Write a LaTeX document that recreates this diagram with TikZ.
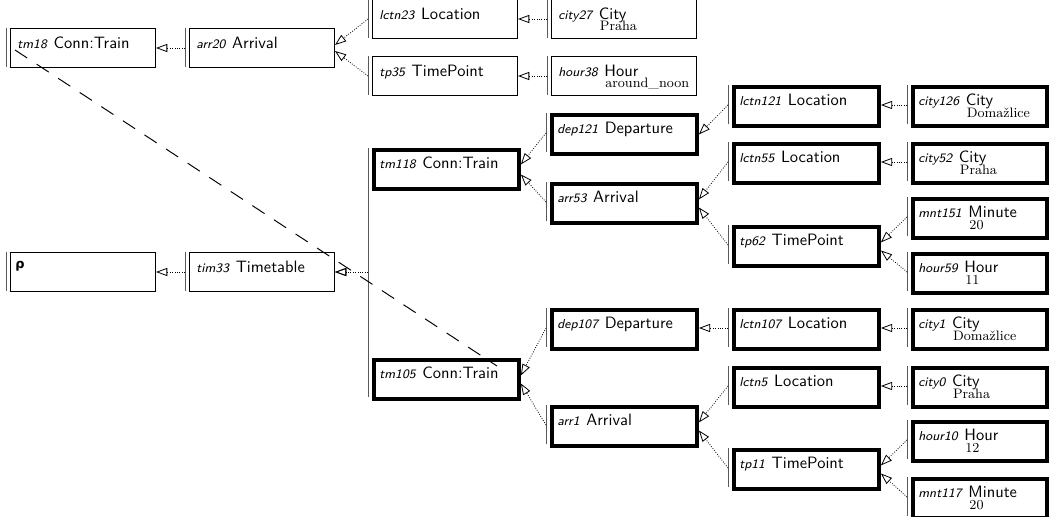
\documentclass[tikz,border=0pt]{standalone}
\usepackage{fontspec}
\newfontfamily\dejavu{DejaVu Sans}
\usetikzlibrary{calc,arrows.meta}
\tikzset{
  x=0.62pt, y=-0.62pt,
  thinbox/.style={draw, line width=0.6pt, minimum width=89.9pt, minimum height=24.2pt, inner sep=0pt, anchor=north west},
  thickbox/.style={draw, line width=2.4pt, minimum width=89.9pt, minimum height=24.2pt, inner sep=0pt, anchor=north west},
  thickboxR/.style={thickbox, minimum width=83pt},
  barline/.style={draw=black!65, line width=0.6pt},
  idtxt/.style={font=\sffamily\fontsize{8}{10}\selectfont\itshape, inner sep=0pt, anchor=base west},
  tytxt/.style={font=\sffamily\fontsize{10.2}{12}\selectfont, inner sep=0pt, anchor=base west},
  valtxt/.style={font=\rmfamily\fontsize{8.5}{10}\selectfont, inner sep=0pt, anchor=base west},
  conn/.style={densely dotted, line width=0.5pt, -{Triangle[open,length=7pt,width=5pt]}},
  anaph/.style={dash pattern=on 9pt off 7pt, line width=0.6pt}
}
\newcommand\bx[6]{%
  \node[#1] (#2) at (#3,#4) {};
  \draw[barline] (#3-4,#4) -- (#3-4,#4+39);
  \coordinate (#2b) at (#3-4,#4+20);
  \node[idtxt] (#2i) at (#3+7,#4+20) {#5};
  \node[tytxt] (#2t) at ($(#2i.base east)+(6,0)$) {#6};
}
\newcommand\bxv[7]{%
  \bx{#1}{#2}{#3}{#4}{#5}{#6}%
  \node[valtxt] (#2v) at ($(#2t.base west)+(1,12)$) {#7};
}
\begin{document}
\begin{tikzpicture}
\useasboundingbox (0,0) rectangle (1049,517);
% upper small tree
\bx{thinbox}{tm18}{10}{28}{tm18}{Conn:Train}
\bx{thinbox}{arr20}{189}{28}{arr20}{Arrival}
\bx{thinbox}{lctn23}{372}{-1}{lctn23}{Location}
\bxv{thinbox}{city27}{551}{-1}{city27}{City}{Praha}
\bx{thinbox}{tp35}{372}{56}{tp35}{TimePoint}
\bxv{thinbox}{hour38}{551}{56}{hour38}{Hour}{around\_noon}
% root
\node[thinbox] (root) at (10,252) {};
\draw[barline] (6,252) -- (6,291);
\node[inner sep=0pt, anchor=base west, font=\dejavu\bfseries\footnotesize] (rootr) at (15,268) {ρ};
\bx{thinbox}{tim33}{189}{252}{tim33}{Timetable}
% first train
\bx{thickbox}{tm118}{372}{148}{tm118}{Conn:Train}
\bx{thickbox}{dep121}{550}{113}{dep121}{Departure}
\bx{thickbox}{arr53}{550}{182}{arr53}{Arrival}
\bx{thickbox}{lctn121}{732}{85}{lctn121}{Location}
\bxv{thickboxR}{city126}{911}{85}{city126}{City}{Domažlice}
\bx{thickbox}{lctn55}{732}{142}{lctn55}{Location}
\bxv{thickboxR}{city52}{911}{142}{city52}{City}{Praha}
\bx{thickbox}{tp62}{732}{225}{tp62}{TimePoint}
\bxv{thickboxR}{mnt151}{911}{197}{mnt151}{Minute}{20}
\bxv{thickboxR}{hour59}{911}{252}{hour59}{Hour}{11}
% second train
\bx{thickbox}{tm105}{372}{358}{tm105}{Conn:Train}
\bx{thickbox}{dep107}{550}{308}{dep107}{Departure}
\bx{thickbox}{arr1}{550}{405}{arr1}{Arrival}
\bx{thickbox}{lctn107}{732}{308}{lctn107}{Location}
\bxv{thickboxR}{city1}{911}{308}{city1}{City}{Domažlice}
\bx{thickbox}{lctn5}{732}{366}{lctn5}{Location}
\bxv{thickboxR}{city0}{911}{366}{city0}{City}{Praha}
\bx{thickbox}{tp11}{732}{448}{tp11}{TimePoint}
\bxv{thickboxR}{hour10}{911}{420}{hour10}{Hour}{12}
\bxv{thickboxR}{mnt117}{911}{477}{mnt117}{Minute}{20}
% horizontal connectors
\draw[conn] (arr20b) -- (arr20b -| tm18.east);
\draw[conn] (tim33b) -- (tim33b -| root.east);
\draw[conn] (city27b) -- (city27b -| lctn23.east);
\draw[conn] (hour38b) -- (hour38b -| tp35.east);
\draw[conn] (city126b) -- (city126b -| lctn121.east);
\draw[conn] (city52b) -- (city52b -| lctn55.east);
\draw[conn] (lctn107b) -- (lctn107b -| dep107.east);
\draw[conn] (city1b) -- (city1b -| lctn107.east);
\draw[conn] (city0b) -- (city0b -| lctn5.east);
% diagonal connectors
\draw[conn] (lctn121b) -- (dep121.east);
\draw[conn] (lctn23b) -- ($(arr20.east)+(0,-3)$);
\draw[conn] (tp35b) -- ($(arr20.east)+(0,3)$);
\draw[conn] (dep121b) -- ($(tm118.east)+(0,-5)$);
\draw[conn] (arr53b) -- ($(tm118.east)+(0,5)$);
\draw[conn] (lctn55b) -- ($(arr53.east)+(0,-4)$);
\draw[conn] (tp62b) -- ($(arr53.east)+(0,4)$);
\draw[conn] (mnt151b) -- ($(tp62.east)+(0,-4)$);
\draw[conn] (hour59b) -- ($(tp62.east)+(0,4)$);
\draw[conn] (dep107b) -- ($(tm105.east)+(0,-4)$);
\draw[conn] (arr1b) -- ($(tm105.east)+(0,4)$);
\draw[conn] (lctn5b) -- ($(arr1.east)+(0,-4)$);
\draw[conn] (tp11b) -- ($(arr1.east)+(0,4)$);
\draw[conn] (hour10b) -- ($(tp11.east)+(0,-4)$);
\draw[conn] (mnt117b) -- ($(tp11.east)+(0,4)$);
% trains to timetable
\draw[barline] (tm118b) -- (tm118b |- tim33.east);
\draw[barline] (tm105b) -- (tm105b |- tim33.east);
\draw[conn] (tm118b |- tim33.east) -- (tim33.east);
\draw[conn] (tm105b |- tim33.east) -- (tim33.east);
% anaphoric link
\coordinate (ana1) at (15,50);
\coordinate (ana2) at (497,366);
\draw[anaph] (ana1) -- (ana2);
\end{tikzpicture}
\end{document}
